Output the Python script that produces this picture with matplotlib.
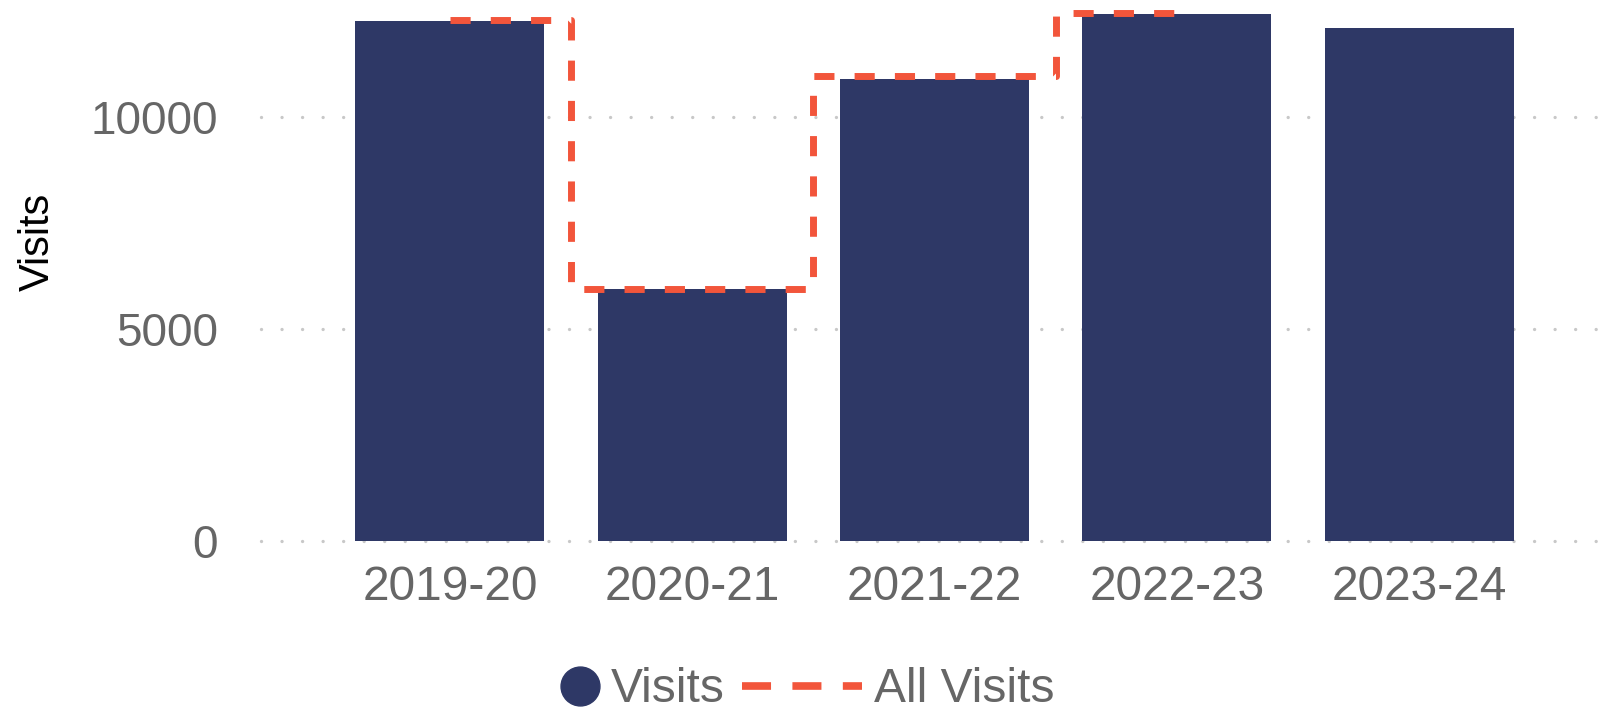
import matplotlib
matplotlib.use("Agg")
import matplotlib.pyplot as plt
from matplotlib.lines import Line2D
from matplotlib.legend_handler import HandlerBase

plt.rcParams["font.family"] = ["Liberation Sans", "DejaVu Sans"]

# data
years = ["2019-20", "2020-21", "2021-22", "2022-23", "2023-24"]
visits = [12250, 5930, 10890, 12410, 12100]
all_visits = [12270, 5950, 10950, 12450]

BAR = "#2e3866"
RED = "#f2553b"
GREY = "#666666"


class RightDot(HandlerBase):
    # circle sitting at the right end of the handle box, next to its label
    def create_artists(self, legend, orig_handle, xdescent, ydescent,
                       width, height, fontsize, trans):
        r = orig_handle.get_markersize() / 2
        dot = Line2D([width - xdescent - r], [height / 2 - ydescent],
                     marker="o", ms=orig_handle.get_markersize(),
                     color=orig_handle.get_color(), linestyle="none",
                     transform=trans)
        return [dot]


fig = plt.figure(figsize=(16.04, 7.17), dpi=100)
ax = fig.add_axes([0.1627, 0.2452, 0.8373, 0.7548])

xs = list(range(len(years)))
ax.bar(xs, visits, width=0.78, color=BAR, zorder=2)
ax.plot(xs[:len(all_visits)], all_visits, drawstyle="steps-mid", color=RED,
        lw=5, linestyle=(0, (2.9, 2.9)), zorder=3)

ax.set_xlim(-0.78, 4.763)
ax.set_ylim(0, 12750)
ax.set_yticks([0, 5000, 10000])
ax.set_xticks(xs)
ax.set_xticklabels(years)
ax.tick_params(axis="both", length=0, labelcolor=GREY)
ax.tick_params(axis="x", pad=17, labelsize=34.5)
ax.tick_params(axis="y", pad=31, labelsize=33)

for s in ax.spines.values():
    s.set_visible(False)

ax.set_axisbelow(True)
ax.yaxis.grid(True, color="#c8c8c8", lw=2.4, linestyle=(0, (0.01, 6.15)),
              dash_capstyle="round")
for gl in ax.get_ygridlines():
    gl.set_clip_on(False)

ax.set_ylabel("Visits", fontsize=30, color="black", va="center")
ax.yaxis.set_label_coords(-0.166, 0.553)

h_dot = Line2D([], [], marker="o", ms=28, color=BAR, linestyle="none")
h_line = Line2D([], [], color=RED, lw=5.5, linestyle=(0, (3.8, 2.8)))
fig.legend([h_dot, h_line], ["Visits", "All Visits"],
           handler_map={h_dot: RightDot()},
           loc="center", bbox_to_anchor=(0.478, 0.0377), ncol=2,
           frameon=False, fontsize=34.5, labelcolor=GREY,
           handlelength=2.5, handletextpad=0.25, columnspacing=0.35,
           borderpad=0, borderaxespad=0)

fig.savefig("out.png", dpi=100)
